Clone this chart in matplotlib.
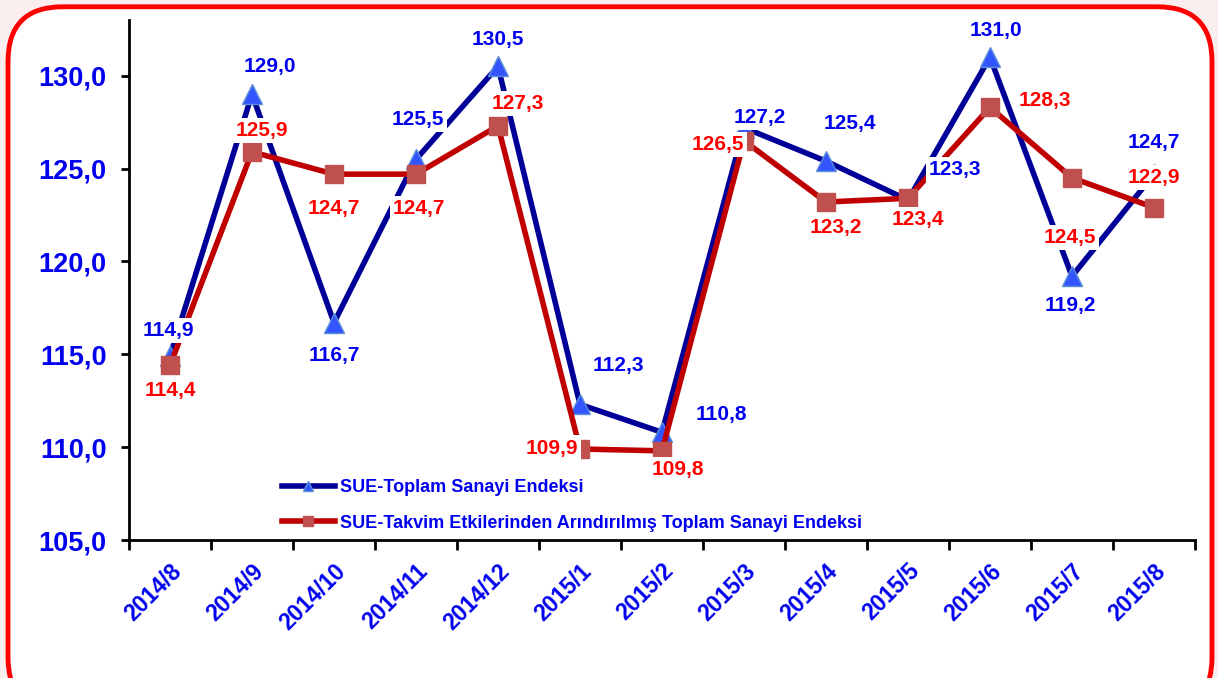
import matplotlib
matplotlib.use("Agg")
import matplotlib.pyplot as plt
from matplotlib.patches import FancyBboxPatch
from matplotlib.ticker import FixedLocator, FuncFormatter

plt.rcParams['font.family'] = ['Liberation Sans', 'DejaVu Sans']
plt.rcParams['font.weight'] = 'bold'

aylar = ["2014/8", "2014/9", "2014/10", "2014/11", "2014/12", "2015/1", "2015/2",
         "2015/3", "2015/4", "2015/5", "2015/6", "2015/7", "2015/8"]
toplam = [114.9, 129.0, 116.7, 125.5, 130.5, 112.3, 110.8, 127.2, 125.4, 123.3, 131.0, 119.2, 124.7]
takvim = [114.4, 125.9, 124.7, 124.7, 127.3, 109.9, 109.8, 126.5, 123.2, 123.4, 128.3, 124.5, 122.9]

# etiket kaydirmalari (piksel)
off_toplam = [(-2, 26), (18, 28), (0, -33), (2, 40), (0, 27), (38, 39), (59, 18),
              (16, 10), (24, 38), (47, 31), (6, 27), (-2, -29), (0, 32)]
off_takvim = [(0, -25), (10, 21), (0, -34), (3, -34), (20, 22), (-28, 1), (16, -19),
              (-26, -4), (10, -25), (10, -21), (55, 7), (-2, -60), (0, 30)]

mavi = "#0000ee"
kirmizi = "#ff0000"

fig = plt.figure(figsize=(12.18, 6.78), dpi=100)
fig.patch.set_facecolor("#fbeeee")
kutu = FancyBboxPatch((8 / 1218, -0.05), 1204 / 1218, 1.04, transform=fig.transFigure,
                      boxstyle="round,pad=0,rounding_size=0.045", facecolor="white",
                      edgecolor="#ff0000", linewidth=3.5, mutation_aspect=1218 / 678,
                      zorder=-5)
fig.add_artist(kutu)

ax = fig.add_axes([129 / 1218, 138 / 678, 1066 / 1218, 520 / 678])
ax.set_facecolor("none")
x = list(range(len(aylar)))

ax.plot(x, toplam, color="#000099", linewidth=4, marker="^", markersize=15,
        markerfacecolor="#3355ff", markeredgecolor="#5b8fd6", markeredgewidth=1,
        label="SUE-Toplam Sanayi Endeksi", zorder=3)
ax.plot(x, takvim, color="#c00000", linewidth=4, marker="s", markersize=13,
        markerfacecolor="#c0504d", markeredgecolor="#c0504d",
        label="SUE-Takvim Etkilerinden Arındırılmış Toplam Sanayi Endeksi", zorder=4)

for xi, v, (dx, dy) in zip(x, toplam, off_toplam):
    ax.annotate(f"{v:.1f}".replace(".", ","), (xi, v), xytext=(dx, dy),
                textcoords="offset pixels", ha="center", va="center", color=mavi,
                fontsize=15, fontweight="bold", zorder=6,
                bbox=dict(boxstyle="square,pad=0.15", fc="white", ec="none"))
for xi, v, (dx, dy) in zip(x, takvim, off_takvim):
    ax.annotate(f"{v:.1f}".replace(".", ","), (xi, v), xytext=(dx, dy),
                textcoords="offset pixels", ha="center", va="center", color=kirmizi,
                fontsize=15, fontweight="bold", zorder=6,
                bbox=dict(boxstyle="square,pad=0.15", fc="white", ec="none"))

ax.set_xlim(-0.5, len(aylar) - 0.5)
ax.set_ylim(105, 133)
ax.set_yticks([105, 110, 115, 120, 125, 130])
ax.yaxis.set_major_formatter(FuncFormatter(lambda v, p: f"{v:.1f}".replace(".", ",")))
ax.tick_params(axis="y", labelsize=19.5, labelcolor=mavi, length=6, width=2, pad=10)

ax.xaxis.set_major_locator(FixedLocator([i - 0.5 for i in range(len(aylar) + 1)]))
ax.xaxis.set_minor_locator(FixedLocator(x))
ax.set_xticklabels([], minor=False)
ax.set_xticklabels(aylar, minor=True, rotation=45, ha="right", rotation_mode="anchor")
ax.tick_params(axis="x", which="major", length=7, width=2)
ax.tick_params(axis="x", which="minor", length=0, labelsize=16.5, labelcolor=mavi, pad=14)
for t in ax.get_xticklabels(minor=True):
    t.set_fontweight("bold")
for t in ax.get_yticklabels():
    t.set_fontweight("bold")

for s in ["top", "right"]:
    ax.spines[s].set_visible(False)
for s in ["left", "bottom"]:
    ax.spines[s].set_linewidth(2)

leg = ax.legend(loc="lower left", bbox_to_anchor=(0.1285, -0.015), frameon=False,
                prop=dict(size=13, weight="bold"), handlelength=2.9, labelspacing=1.0,
                handletextpad=0.28, markerscale=0.5)
for t in leg.get_texts():
    t.set_color(mavi)

fig.savefig("out.png", dpi=100, facecolor=fig.get_facecolor())
